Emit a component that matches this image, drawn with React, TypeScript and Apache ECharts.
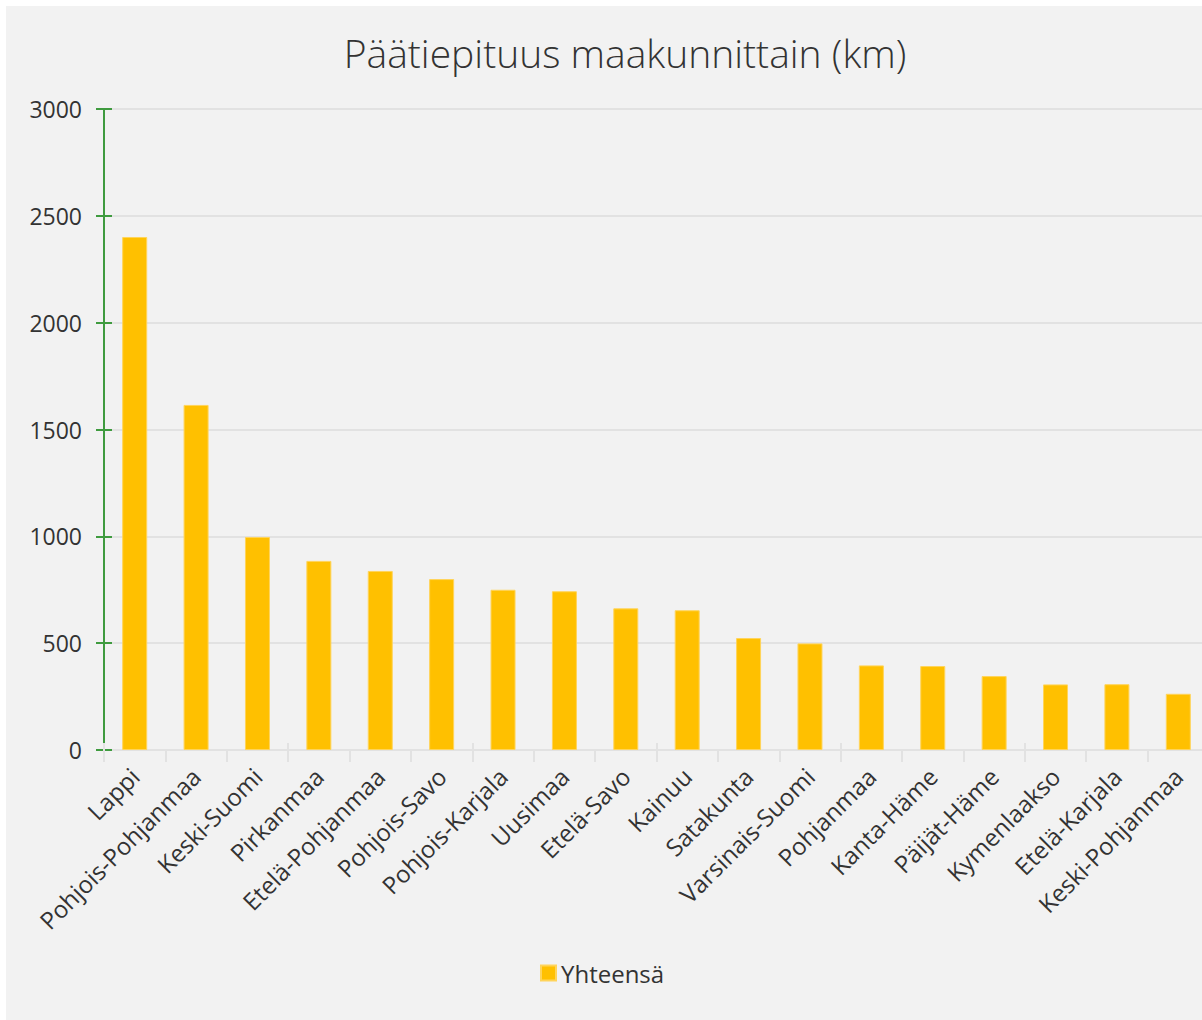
import React, { useEffect, useRef } from "react";
import * as echarts from "echarts";

const titleText = "Päätiepituus maakunnittain (km)";
const seriesName = "Yhteensä";
const categories = [
  "Lappi",
  "Pohjois-Pohjanmaa",
  "Keski-Suomi",
  "Pirkanmaa",
  "Etelä-Pohjanmaa",
  "Pohjois-Savo",
  "Pohjois-Karjala",
  "Uusimaa",
  "Etelä-Savo",
  "Kainuu",
  "Satakunta",
  "Varsinais-Suomi",
  "Pohjanmaa",
  "Kanta-Häme",
  "Päijät-Häme",
  "Kymenlaakso",
  "Etelä-Karjala",
  "Keski-Pohjanmaa",
];
const values = [2401, 1615, 997, 885, 838, 800, 750, 743, 663, 654, 524, 499, 396, 393, 346, 307, 308, 263];
const yMin = 0;
const yMax = 3000;
const yInterval = 500;

export default function App() {
  const ref = useRef<HTMLDivElement>(null);
  useEffect(() => {
    if (!ref.current) return;
    const chart = echarts.init(ref.current, undefined, { renderer: "svg" });
    const font = "'Open Sans', 'Noto Sans', sans-serif";
    const green = "#3f9b3f";
    const lightGrey = "#e2e2e2";
    chart.setOption({
      animation: false,
      backgroundColor: "#f2f2f2",
      textStyle: { fontFamily: font },
      title: {
        text: titleText,
        left: 614,
        textAlign: "center",
        top: 22,
        textStyle: { fontFamily: font, fontSize: 39, fontWeight: 300, color: "#333" },
      },
      legend: {
        data: [seriesName],
        bottom: 30,
        left: 529,
        itemWidth: 15,
        itemHeight: 15,
        itemGap: 6,
        icon: "rect",
        textStyle: { fontFamily: font, fontSize: 24, color: "#333" },
      },
      grid: { left: 98, right: 7, top: 103, bottom: 270, containLabel: false },
      xAxis: [
        {
          type: "category",
          data: categories,
          axisLine: { show: true, lineStyle: { color: lightGrey, width: 2 } },
          axisTick: { show: true, alignWithLabel: false, length: 12, lineStyle: { color: lightGrey, width: 2 } },
          axisLabel: { interval: 0, rotate: 45, margin: 22, fontSize: 24, color: "#333", fontFamily: font },
          splitLine: { show: false },
        },
        {
          type: "category",
          data: categories,
          position: "bottom",
          axisLine: { show: false },
          axisTick: { show: true, inside: true, length: 7, lineStyle: { color: lightGrey, width: 2 } },
          axisLabel: { show: false },
          splitLine: { show: false },
        },
      ],
      yAxis: [
        {
          type: "value",
          min: yMin,
          max: yMax,
          interval: yInterval,
          axisLine: { show: true, lineStyle: { color: green, width: 2 } },
          axisTick: { show: true, length: 8, lineStyle: { color: green, width: 2 } },
          axisLabel: {
            margin: 22,
            fontSize: 23,
            color: "#333",
            fontFamily: font,
            formatter: (v: number) => String(v),
          },
          splitLine: { show: true, lineStyle: { color: lightGrey, width: 2 } },
        },
        {
          type: "value",
          min: yMin,
          max: yMax,
          interval: yInterval,
          position: "left",
          axisLine: { show: false },
          axisTick: { show: true, inside: true, length: 8, lineStyle: { color: green, width: 2 } },
          axisLabel: { show: false },
          splitLine: { show: false },
        },
      ],
      series: [
        {
          name: seriesName,
          type: "bar",
          data: values,
          xAxisIndex: 0,
          yAxisIndex: 0,
          barWidth: 25,
          itemStyle: { color: "#ffc000", borderColor: "#ffd45a", borderWidth: 1 },
        },
      ],
    });
    return () => chart.dispose();
  }, []);
  return (
    <div style={{ position: "absolute", left: 6, top: 6, width: 1196, height: 1014, overflow: "hidden" }}>
      <div ref={ref} style={{ width: 1210, height: 1014 }} />
    </div>
  );
}
